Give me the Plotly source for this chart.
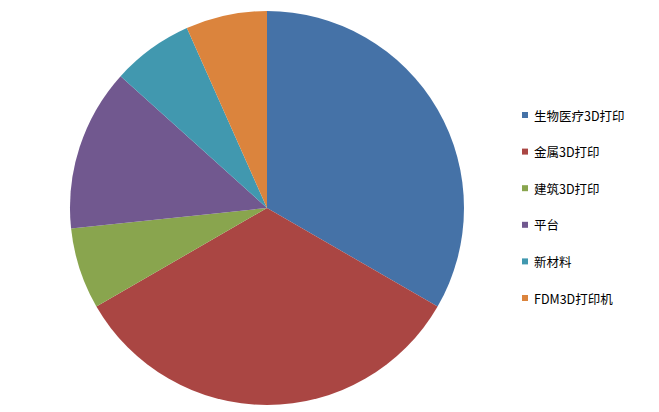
import plotly.graph_objects as go

labels = ["生物医疗3D打印", "金属3D打印", "建筑3D打印", "平台", "新材料", "FDM3D打印机"]
values = [5, 5, 1, 2, 1, 1]
colors = ["#4572A7", "#AA4643", "#89A54E", "#71588F", "#4198AF", "#DB843D"]

W, H = 659, 412
cx, cy, r = 267, 208, 197

fig = go.Figure()
fig.add_trace(go.Pie(
    labels=labels, values=values, sort=False, direction="clockwise", rotation=0,
    marker=dict(colors=colors, line=dict(color="rgba(0,0,0,0)", width=0)),
    textinfo="none", hoverinfo="label+value+percent", showlegend=False,
    domain=dict(x=[(cx - r) / W, (cx + r) / W], y=[(H - cy - r) / H, (H - cy + r) / H]),
))

# custom legend
leg_x, leg_y0, leg_dy, sq = 522, 115, 36.6, 6
shapes, annots = [], []
for i, (lab, col) in enumerate(zip(labels, colors)):
    yc = leg_y0 + i * leg_dy
    shapes.append(dict(type="rect", xref="paper", yref="paper",
                       x0=leg_x / W, x1=(leg_x + sq) / W,
                       y0=(H - yc - sq / 2) / H, y1=(H - yc + sq / 2) / H,
                       fillcolor=col, line=dict(width=0)))
    annots.append(dict(text=lab, xref="paper", yref="paper",
                       x=(leg_x + sq + 4) / W, y=(H - yc) / H,
                       xanchor="left", yanchor="middle", showarrow=False,
                       font=dict(size=12.5, color="#000000")))

fig.update_layout(
    width=W, height=H, margin=dict(l=0, r=0, t=0, b=0),
    paper_bgcolor="white", plot_bgcolor="white",
    font=dict(family="Noto Sans CJK SC, sans-serif", size=12, color="#000000"),
    shapes=shapes, annotations=annots,
)
fig.write_html("out.html", config={"displayModeBar": False},
               post_script="document.body.style.margin='0';")
